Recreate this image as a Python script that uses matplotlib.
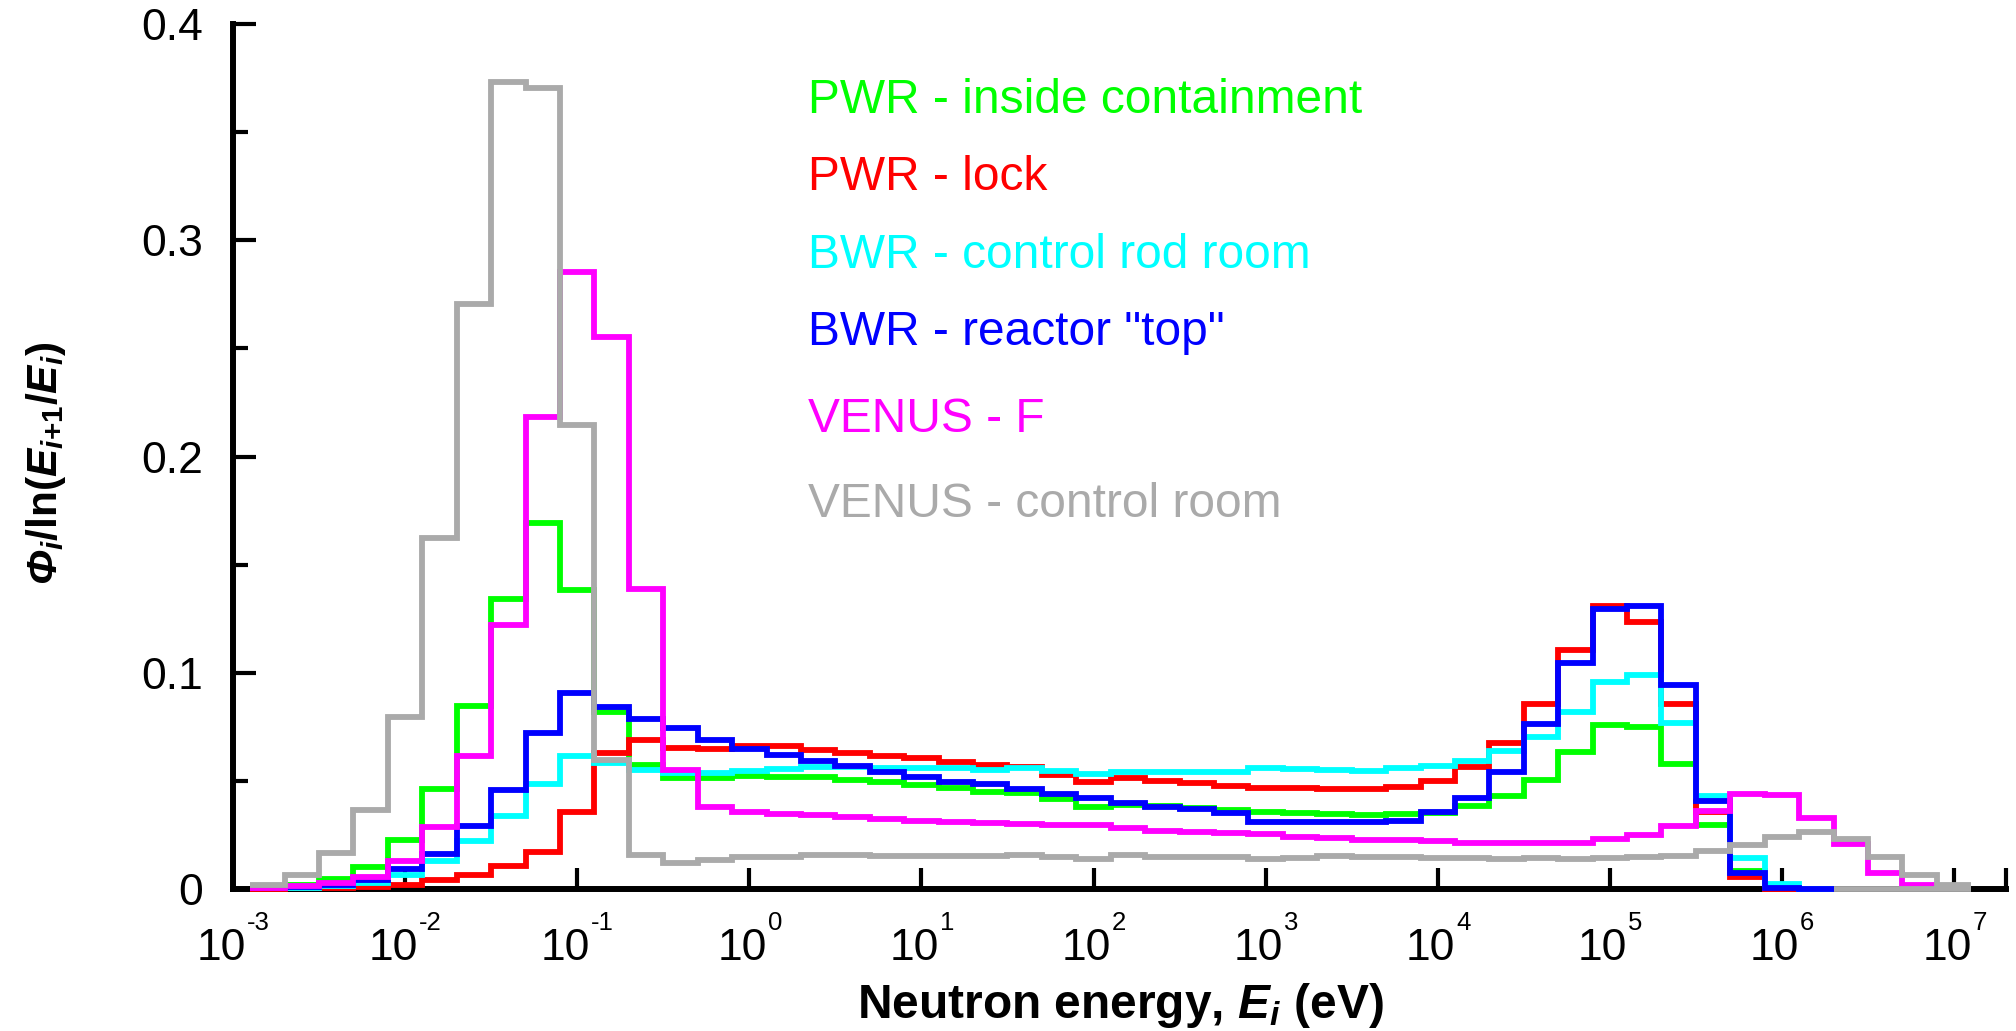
import numpy as np
import matplotlib
matplotlib.use('Agg')
import matplotlib.pyplot as plt
from matplotlib.ticker import NullLocator

plt.rcParams['font.family'] = ['Liberation Sans', 'DejaVu Sans']
plt.rcParams['mathtext.fontset'] = 'custom'
plt.rcParams['mathtext.rm'] = 'Liberation Sans'
plt.rcParams['mathtext.it'] = 'Liberation Sans:italic'
plt.rcParams['mathtext.bf'] = 'Liberation Sans:bold'
plt.rcParams['mathtext.bfit'] = 'Liberation Sans:italic:bold'

# energy groups: 5 per decade, 10^-2.9 eV ... 10^7.1 eV
edges = 10.0 ** (np.arange(51) * 0.2 - 2.9)

pwr_inside = [0.0008, 0.0020, 0.0047, 0.0103, 0.0228, 0.0461, 0.0846, 0.1341, 0.1692, 0.1382,
              0.0820, 0.0573, 0.0512, 0.0512, 0.0523, 0.0519, 0.0519, 0.0504, 0.0496, 0.0481,
              0.0468, 0.0447, 0.0445, 0.0415, 0.0378, 0.0389, 0.0384, 0.0373, 0.0365, 0.0354,
              0.0350, 0.0347, 0.0342, 0.0345, 0.0353, 0.0384, 0.0430, 0.0504, 0.0635, 0.0758,
              0.0748, 0.0577, 0.0296, 0.0085, 0.0005, 0.0]
pwr_lock = [0.0002, 0.0003, 0.0005, 0.0008, 0.0018, 0.0040, 0.0067, 0.0106, 0.0170, 0.0355,
            0.0630, 0.0689, 0.0653, 0.0646, 0.0660, 0.0660, 0.0643, 0.0630, 0.0615, 0.0604,
            0.0589, 0.0573, 0.0563, 0.0527, 0.0496, 0.0515, 0.0499, 0.0489, 0.0476, 0.0466,
            0.0466, 0.0461, 0.0461, 0.0472, 0.0501, 0.0563, 0.0674, 0.0855, 0.1105, 0.1309,
            0.1236, 0.0855, 0.0355, 0.0055, 0.0, 0.0]
bwr_rod_room = [0.0003, 0.0006, 0.0012, 0.0026, 0.0065, 0.0130, 0.0223, 0.0336, 0.0484, 0.0615,
                0.0581, 0.0550, 0.0538, 0.0538, 0.0547, 0.0555, 0.0563, 0.0563, 0.0558, 0.0558,
                0.0558, 0.0550, 0.0561, 0.0547, 0.0532, 0.0543, 0.0543, 0.0540, 0.0540, 0.0558,
                0.0553, 0.0550, 0.0547, 0.0558, 0.0569, 0.0593, 0.0638, 0.0704, 0.0820, 0.0959,
                0.0990, 0.0766, 0.0432, 0.0145, 0.0024, 0.0]
bwr_top = [0.0003, 0.0008, 0.0020, 0.0042, 0.0092, 0.0164, 0.0291, 0.0460, 0.0721, 0.0908,
           0.0843, 0.0785, 0.0746, 0.0687, 0.0647, 0.0620, 0.0592, 0.0569, 0.0543, 0.0519,
           0.0496, 0.0484, 0.0461, 0.0439, 0.0422, 0.0399, 0.0378, 0.0368, 0.0350, 0.0311,
           0.0310, 0.0308, 0.0311, 0.0316, 0.0357, 0.0419, 0.0542, 0.0763, 0.1044, 0.1293,
           0.1309, 0.0943, 0.0408, 0.0073, 0.0004, 0.0]
venus_f = [0.0004, 0.0012, 0.0030, 0.0056, 0.0128, 0.0288, 0.0614, 0.1221, 0.2184, 0.2855,
           0.2551, 0.1386, 0.0550, 0.0380, 0.0357, 0.0347, 0.0342, 0.0334, 0.0322, 0.0316,
           0.0311, 0.0306, 0.0301, 0.0296, 0.0296, 0.0281, 0.0270, 0.0262, 0.0258, 0.0253,
           0.0242, 0.0234, 0.0227, 0.0225, 0.0222, 0.0214, 0.0211, 0.0211, 0.0214, 0.0230,
           0.0250, 0.0291, 0.0362, 0.0439, 0.0435, 0.0330, 0.0210, 0.0074, 0.0018, 0.0005]
venus_control = [0.0018, 0.0067, 0.0166, 0.0365, 0.0797, 0.1622, 0.2705, 0.3733, 0.3703, 0.2146,
                 0.0597, 0.0157, 0.0119, 0.0136, 0.0147, 0.0150, 0.0157, 0.0157, 0.0152, 0.0154,
                 0.0154, 0.0154, 0.0157, 0.0147, 0.0139, 0.0157, 0.0150, 0.0147, 0.0150, 0.0137,
                 0.0145, 0.0152, 0.0147, 0.0148, 0.0142, 0.0142, 0.0137, 0.0142, 0.0137, 0.0142,
                 0.0146, 0.0152, 0.0175, 0.0203, 0.0239, 0.0263, 0.0232, 0.0148, 0.0065, 0.0018]

series = [pwr_inside, pwr_lock, bwr_rod_room, bwr_top, venus_f, venus_control]
names = ['PWR - inside containment', 'PWR - lock', 'BWR - control rod room',
         'BWR - reactor "top"', 'VENUS - F', 'VENUS - control room']
colors = ['#00ff00', '#ff0000', '#00ffff', '#0000ff', '#ff00ff', '#aaaaaa']
name_y = [0.8968, 0.8081, 0.7176, 0.6289, 0.5287, 0.4304]

fig = plt.figure(figsize=(20.16, 10.31), dpi=100)
ax = fig.add_axes([0.11558, 0.13773, 0.87937, 0.83899])

for vals, c in zip(series, colors):
    ax.stairs(vals, edges[:len(vals) + 1], baseline=None, color=c, lw=4.2,
              clip_on=False, zorder=3)
# zero line of the control room spectrum past the end of the reactor spectra
ax.hlines(0, edges[len(bwr_top)], edges[-1], colors=colors[-1], lw=4.2,
          clip_on=False, zorder=3)

ax.set_xscale('log')
ax.set_xlim(1e-3, 2e7)
ax.set_ylim(0, 0.4)
ax.spines['top'].set_visible(False)
ax.spines['right'].set_visible(False)
for s in ['left', 'bottom']:
    ax.spines[s].set_linewidth(4.3)

decades = np.arange(-3, 8)
ax.set_xticks(list(10.0 ** decades) + [2e7])
ax.xaxis.set_minor_locator(NullLocator())
ax.tick_params(axis='x', which='major', direction='in', length=15, width=3,
               labelbottom=False)

ax.set_yticks([0, 0.1, 0.2, 0.3, 0.4])
ax.set_yticklabels(['0', '0.1', '0.2', '0.3', '0.4'])
ax.set_yticks([0.05, 0.15, 0.25, 0.35], minor=True)
ax.tick_params(axis='y', which='major', direction='in', length=16.5, width=3,
               labelsize=32, pad=21.6)
ax.tick_params(axis='y', which='minor', direction='in', length=10.8, width=3)

# decade labels drawn as "10" plus a small raised exponent
big, small = 32, 18.5
for e in decades:
    ex = str(e)
    w1 = 1.112 * big
    w2 = sum(0.333 if ch == '-' else 0.556 for ch in ex) * small
    x0 = -(w1 + w2) / 2
    ax.annotate('10', xy=(10.0 ** e, 0), xycoords=('data', 'axes fraction'),
                xytext=(x0, -51), textcoords='offset points', ha='left',
                va='baseline', fontsize=big, annotation_clip=False)
    ax.annotate(ex, xy=(10.0 ** e, 0), xycoords=('data', 'axes fraction'),
                xytext=(x0 + w1 + 0.5, -29.5), textcoords='offset points', ha='left',
                va='baseline', fontsize=small, annotation_clip=False)

for name, c, y in zip(names, colors, name_y):
    ax.text(0.3244, y, name, transform=ax.transAxes, color=c, fontsize=34.5,
            ha='left', va='baseline')

fig.text(1120 / 2016, 13 / 1031,
         r'$\mathbf{Neutron\ energy{,}\ }\mathbfit{E}_{\mathbfit{i}}\mathbf{\ (eV)}$',
         fontsize=34.5, ha='center', va='baseline')
fig.text(24 / 2016, 0.551,
         r'$\mathbfit{\Phi}_{\mathbfit{i}}\mathbf{/ln(}\mathbfit{E}_{\mathbfit{i}\mathbf{+1}}'
         r'\mathbf{/}\mathbfit{E}_{\mathbfit{i}}\mathbf{)}$',
         fontsize=30.5, rotation=90, ha='left', va='center')

fig.savefig('out.png', dpi=100)
